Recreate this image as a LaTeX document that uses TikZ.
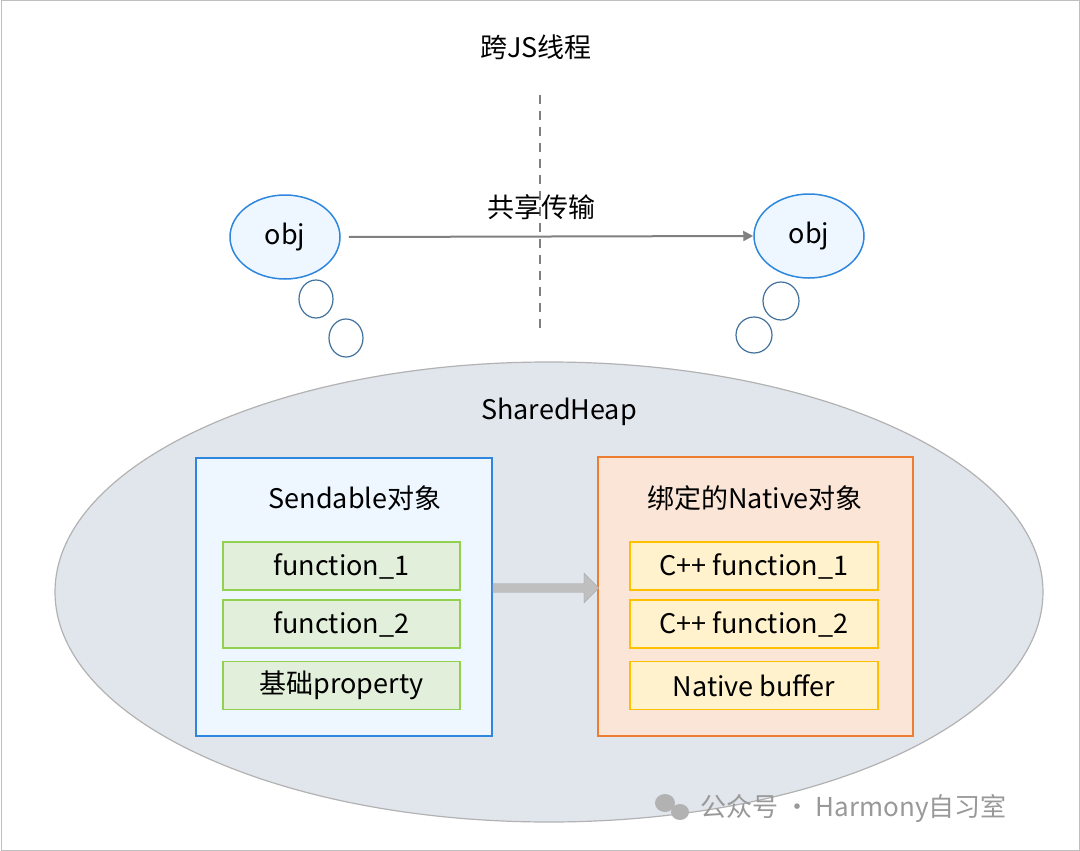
\documentclass[tikz,border=0pt]{standalone}
\usepackage{fontspec}
\setmainfont{Noto Sans CJK SC}
\usetikzlibrary{shapes.arrows,shapes.geometric,arrows.meta}
\definecolor{blueline}{HTML}{2E86DE}
\definecolor{bluefill}{HTML}{EEF7FF}
\definecolor{bubble}{HTML}{41719C}
\definecolor{heap}{HTML}{E1E5EC}
\definecolor{greenline}{HTML}{92D050}
\definecolor{greenfill}{HTML}{E2EFDA}
\definecolor{orline}{HTML}{ED7D31}
\definecolor{orfill}{HTML}{FBE5D6}
\definecolor{yline}{HTML}{FFC000}
\definecolor{yfill}{HTML}{FFF2CC}
\begin{document}
\begin{tikzpicture}[x=1pt,y=-1pt,
  txt/.style={font=\fontsize{27}{30}\selectfont, inner sep=0pt},
  item/.style={draw, line width=1.5pt, minimum height=48pt, inner sep=0pt, font=\fontsize{27}{30}\selectfont},
  gitem/.style={item, draw=greenline, fill=greenfill, minimum width=237pt},
  yitem/.style={item, draw=yline, fill=yfill, minimum width=248pt},
  sb/.style={draw=bubble, line width=1.2pt, fill=white},
  objn/.style={draw=blueline, fill=bluefill, line width=1.5pt, ellipse, minimum width=110pt, minimum height=84pt, inner sep=0pt, font=\fontsize{27}{30}\selectfont}]
\useasboundingbox (0,0) rectangle (1080,851);
\draw[gray!50, line width=1pt] (1,1) rectangle (1079,850);
\node[txt] (title) at (536,47) {跨JS线程};
\coordinate (dtop) at (540,95);
\coordinate (dbot) at (540,330);
\draw[gray, line width=2pt, dash pattern=on 9pt off 7pt] (dtop) -- (dbot);
\node[objn] (o1) at (285,237) {obj};
\node[objn] (o2) at (809,236) {obj};
\draw[sb] (316,299) ellipse (17 and 19);
\draw[sb] (346,338) ellipse (17 and 19);
\draw[sb] (781,301) ellipse (18 and 19);
\draw[sb] (754,335) ellipse (18 and 18);
\draw[gray, line width=2pt, -{Triangle[length=10pt,width=10pt]}] ([xshift=8pt]o1.east) -- (o2.west);
\node[txt] (share) at (541,207) {共享传输};
\node[draw=gray!60, fill=heap, line width=1.2pt, ellipse, minimum width=988pt, minimum height=460pt] (heap) at (549,592) {};
\node[txt] (sh) at (559,412) {SharedHeap};
\node[draw=blueline, fill=bluefill, line width=1.5pt, minimum width=296pt, minimum height=278pt, inner sep=0pt] (lb) at (344,597) {};
\node[txt] (lt) at (355,498) {Sendable对象};
\node[gitem] (f1) at (341.5,566) {function\_1};
\node[gitem] (f2) at (341.5,624) {function\_2};
\node[gitem] (f3) at (341.5,685.5) {基础property};
\node[draw=orline, fill=orfill, line width=1.5pt, minimum width=315pt, minimum height=279pt, inner sep=0pt] (rb) at (755.5,596.5) {};
\node[txt] (rt) at (755,498) {绑定的Native对象};
\node[yitem] (c1) at (754,566) {C++ function\_1};
\node[yitem] (c2) at (754,624) {C++ function\_2};
\node[yitem] (c3) at (754,685.5) {Native buffer};
\node[single arrow, draw=gray!70, fill=gray!50, minimum height=106pt, minimum width=30pt, single arrow head extend=8pt, inner sep=3pt, anchor=tail] (ba) at (lb.east |- 0,588) {};
\fill[gray!60] (665,803) ellipse (10 and 9);
\fill[gray!60] (680,812) ellipse (9 and 8);
\node[txt, text=gray!80, font=\fontsize{26}{30}\selectfont, anchor=west] (wm) at (700,808) {公众号 · Harmony自习室};
\end{tikzpicture}
\end{document}
